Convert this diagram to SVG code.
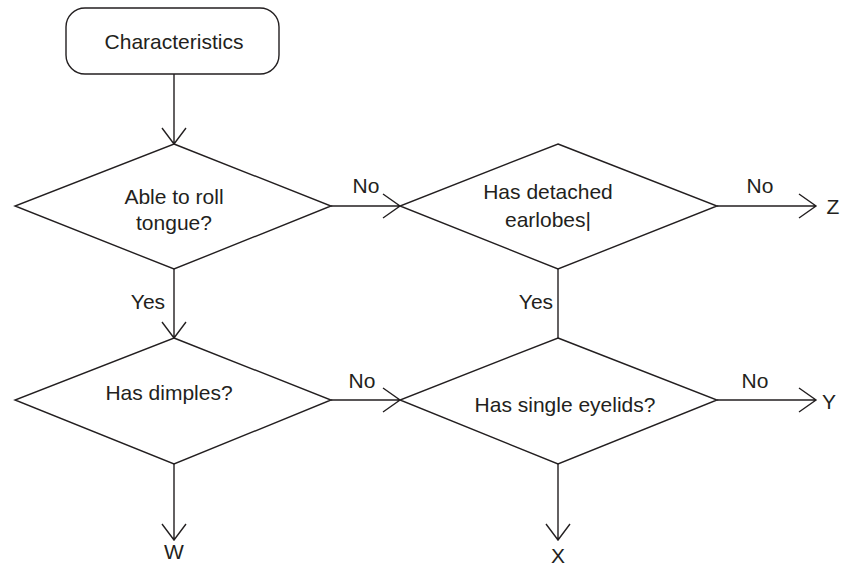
<svg xmlns="http://www.w3.org/2000/svg" width="854" height="578" viewBox="0 0 854 578">
<defs>
<style>
.s{fill:#fff;stroke:#231f20;stroke-width:1.4}
.l{fill:none;stroke:#231f20;stroke-width:1.4}
text{font-family:"Liberation Sans",Arial,sans-serif;font-size:21px;fill:#231f20;text-anchor:middle}
</style>
</defs>
<rect width="854" height="578" fill="#fff"/>
<g id="connectors">
<path class="l" d="M174,74V144M162,128L174,144L186,128"/>
<path class="l" d="M174,269V338M162,322L174,338L186,322"/>
<path class="l" d="M331,206H400M383,194L400,206L383,218"/>
<path class="l" d="M331,400H400M383,388L400,400L383,412"/>
<path class="l" d="M717,206H816M799,194L816,206L799,218"/>
<path class="l" d="M717,400H816M799,388L816,400L799,412"/>
<path class="l" d="M558,269V338"/>
<path class="l" d="M174,464V540M162,524L174,540L186,524"/>
<path class="l" d="M558,464V540M546,524L558,540L570,524"/>
<text x="148" y="309">Yes</text>
<text x="536" y="309">Yes</text>
<text x="366" y="193">No</text>
<text x="760" y="193">No</text>
<text x="362" y="388">No</text>
<text x="755" y="388">No</text>
<text x="833" y="214">Z</text>
<text x="829" y="409">Y</text>
<text x="174" y="559">W</text>
<text x="558" y="563">X</text>
</g>
<g id="start">
<rect class="s" x="66" y="8" width="213" height="66" rx="19"/>
<text x="174" y="49">Characteristics</text>
</g>
<g id="roll">
<polygon class="s" points="174,144 331,206 174,269 15,206"/>
<text x="174" y="204">Able to roll</text>
<text x="174" y="230">tongue?</text>
</g>
<g id="dimples">
<polygon class="s" points="174,338 331,400 174,464 15,400"/>
<text x="169" y="400">Has dimples?</text>
</g>
<g id="earlobes">
<polygon class="s" points="558,144 717,206 558,269 400,206"/>
<text x="548" y="199">Has detached</text>
<text x="548" y="227">earlobes|</text>
</g>
<g id="eyelids">
<polygon class="s" points="558,338 717,400 558,464 400,400"/>
<text x="565" y="412">Has single eyelids?</text>
</g>
</svg>
